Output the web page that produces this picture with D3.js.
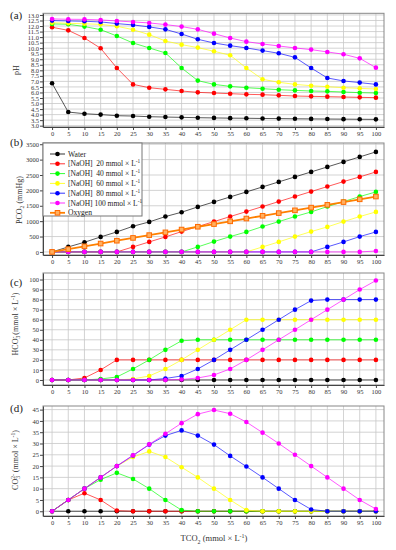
<!DOCTYPE html>
<html>
<head>
<meta charset="utf-8">
<script src="https://cdn.jsdelivr.net/npm/d3@7"></script>
<style>
body { margin: 0; background: #fff; }
text { font-family: "Liberation Serif", "Times New Roman", serif; }
</style>
</head>
<body>
<div id="chart"></div>
<script>
const width = 396;
const height = 550;

// TCO2 (mmol x L-1)
const tco2 = [0, 5, 10, 15, 20, 25, 30, 35, 40, 45, 50, 55, 60, 65, 70, 75, 80, 85, 90, 95, 100];

const seriesNames = ['Water', '20', '40', '60', '80', '100'];
const seriesColors = ['#000000', '#ff0000', '#00ff00', '#ffff00', '#0000ff', '#ff00ff'];

// (a) pH
const phWater = [6.83, 4.23, 4.08, 4.0, 3.9, 3.87, 3.81, 3.78, 3.75, 3.72, 3.7, 3.68, 3.67, 3.65, 3.64, 3.62, 3.61, 3.6, 3.59, 3.58, 3.57];
const ph20 = [11.89, 11.61, 10.92, 9.99, 8.21, 6.73, 6.43, 6.28, 6.13, 6.01, 5.95, 5.89, 5.83, 5.8, 5.74, 5.68, 5.65, 5.62, 5.59, 5.56, 5.53];
const ph40 = [12.19, 12.16, 11.95, 11.67, 11.1, 10.47, 10.02, 9.57, 8.21, 7.07, 6.73, 6.55, 6.43, 6.34, 6.25, 6.19, 6.13, 6.1, 6.04, 5.98, 5.95];
const ph60 = [12.3, 12.25, 12.2, 12.15, 11.98, 11.67, 11.22, 10.65, 10.32, 10.05, 9.72, 9.36, 8.21, 7.19, 6.92, 6.73, 6.61, 6.52, 6.43, 6.37, 6.31];
const ph80 = [12.49, 12.46, 12.43, 12.37, 12.22, 12.1, 11.92, 11.7, 11.28, 10.8, 10.47, 10.23, 10.02, 9.78, 9.54, 9.17, 8.21, 7.31, 7.04, 6.89, 6.73];
const ph100 = [12.64, 12.61, 12.6, 12.55, 12.46, 12.37, 12.28, 12.13, 11.95, 11.7, 11.31, 10.92, 10.59, 10.38, 10.2, 10.02, 9.87, 9.66, 9.45, 9.08, 8.24];

// (b) PCO2 (mmHg)
const pco2Water = [0, 163, 314, 488, 650, 834, 975, 1149, 1290, 1463, 1625, 1788, 1950, 2113, 2276, 2438, 2600, 2763, 2926, 3088, 3251];
const pco2_20 = [0, 0, 0, 0, 0, 163, 325, 488, 661, 824, 986, 1149, 1311, 1474, 1636, 1799, 1961, 2124, 2286, 2438, 2600];
const pco2_40 = [0, 0, 0, 0, 0, 0, 0, 0, 0, 163, 336, 498, 650, 824, 986, 1149, 1300, 1474, 1636, 1799, 1950];
const pco2_60 = [0, 0, 0, 0, 0, 0, 0, 0, 0, 0, 0, 0, 0, 163, 325, 498, 661, 813, 986, 1149, 1300];
const pco2_80 = [0, 0, 0, 0, 0, 0, 0, 0, 0, 0, 0, 0, 0, 0, 0, 0, 0, 163, 325, 498, 650];
const pco2_100 = [0, 0, 0, 0, 0, 0, 0, 0, 0, 0, 0, 0, 0, 0, 0, 0, 0, 0, 0, 0, 30];
const pco2Oxygen = [0, 92, 183, 272, 364, 455, 546, 636, 727, 818, 905, 995, 1085, 1175, 1262, 1352, 1440, 1530, 1620, 1710, 1800];

// (c) HCO3- (mmol x L-1)
const hco3Water = [0, 0, 0, 0, 0, 0, 0, 0, 0, 0, 0, 0, 0, 0, 0, 0, 0, 0, 0, 0, 0];
const hco3_20 = [0, 0, 2, 10, 20, 20, 20, 20, 20, 20, 20, 20, 20, 20, 20, 20, 20, 20, 20, 20, 20];
const hco3_40 = [0, 0, 0, 1, 3, 11, 20, 30, 39, 40, 40, 40, 40, 40, 40, 40, 40, 40, 40, 40, 40];
const hco3_60 = [0, 0, 0, 0, 0, 1, 4, 11, 20, 30, 40, 50, 60, 60, 60, 60, 60, 60, 60, 60, 60];
const hco3_80 = [0, 0, 0, 0, 0, 0, 0, 1.5, 4, 11, 20, 30, 40, 50, 60, 70, 79, 80, 80, 80, 80];
const hco3_100 = [0, 0, 0, 0, 0, 0, 0, 0, 0.5, 2, 5, 11, 20, 30, 40, 50, 60, 70, 80, 90, 99];

// (d) CO3 2- (mmol x L-1)
const co3Water = [0, 0, 0, 0, 0, 0, 0, 0, 0, 0, 0, 0, 0, 0, 0, 0, 0, 0, 0, 0, 0];
const co3_20 = [0, 5, 8, 5, 0.3, 0, 0, 0, 0, 0, 0, 0, 0, 0, 0, 0, 0, 0, 0, 0, 0];
const co3_40 = [0, 5, 10, 14, 17, 14.3, 10, 5, 0.5, 0, 0, 0, 0, 0, 0, 0, 0, 0, 0, 0, 0];
const co3_60 = [0, 5, 10, 15, 20, 24, 26.5, 24, 19.5, 15, 10, 5, 0.5, 0, 0, 0, 0, 0, 0, 0, 0];
const co3_80 = [0, 5, 10, 15, 20, 24.7, 29.5, 33.5, 35.8, 33.5, 29.5, 24.5, 19.8, 15, 10, 5, 0.8, 0, 0, 0, 0];
const co3_100 = [0, 5, 10, 15, 20, 24.8, 29.6, 34.3, 39, 43, 44.8, 43.2, 39.5, 34.8, 30, 25, 20, 15, 10, 5, 1];

const xTicks = d3.range(0, 101, 5);

// 面板布局
const panels = [
    {label: '(a)', labelY: 19, top: 13.3, bottom: 127, domain: [2.88, 13.15],
        ticks: d3.range(3, 13.01, 0.5), fmt: d3.format('.1f'),
        series: [phWater, ph20, ph40, ph60, ph80, ph100],
        title: [['pH']], titleX: 19, titleY: 70},
    {label: '(b)', labelY: 146, top: 143, bottom: 255, domain: [-100, 3540],
        ticks: d3.range(0, 3501, 500), fmt: d3.format('d'),
        series: [pco2Water, pco2_20, pco2_40, pco2_60, pco2_80, pco2_100],
        title: [['PCO'], ['2', 'sub'], [' (mmHg)']], titleX: 22, titleY: 200},
    {label: '(c)', labelY: 286, top: 273, bottom: 385, domain: [-5, 106.5],
        ticks: d3.range(0, 101, 10), fmt: d3.format('d'),
        series: [hco3Water, hco3_20, hco3_40, hco3_60, hco3_80, hco3_100],
        title: [['HCO'], ['3', 'sub'], ['-', 'sup'], [' (mmol × L'], ['-1', 'sup'], [')']], titleX: 18, titleY: 324},
    {label: '(d)', labelY: 412, top: 406, bottom: 516, domain: [-2.1, 46.6],
        ticks: d3.range(0, 46, 5), fmt: d3.format('d'),
        series: [co3Water, co3_20, co3_40, co3_60, co3_80, co3_100],
        title: [['CO'], ['3', 'sub'], ['2-', 'sup'], [' (mmol × L'], ['-1', 'sup'], [')']], titleX: 18, titleY: 460}
];

const left = 43, right = 384;

var svg = d3.select('#chart').append('svg')
    .attr('width', width).attr('height', height);
svg.append('rect').attr('width', width).attr('height', height).attr('fill', '#fff');

var x = d3.scaleLinear().domain([-2.8, 102.5]).range([left, right]);

// 上下标文本
function rich_text(sel, parts, size) {
    let shift = 0;
    parts.forEach(function (p) {
        let t = sel.append('tspan').text(p[0]);
        let target = 0;
        if (p[1] === 'sub') target = size * 0.3;
        if (p[1] === 'sup') target = -size * 0.4;
        if (p[1]) t.attr('font-size', size * 0.7);
        if (p[1] === 'sup' && shift > 0) t.attr('dx', -size * 0.35);
        t.attr('dy', target - shift);
        shift = target;
    });
}

panels.forEach(function (p) {
    let y = d3.scaleLinear().domain(p.domain).range([p.bottom, p.top]);
    let g = svg.append('g');

    // grid
    g.append('g').selectAll('line').data(xTicks).enter().append('line')
        .attr('x1', d => x(d)).attr('x2', d => x(d))
        .attr('y1', p.top).attr('y2', p.bottom)
        .attr('stroke', '#c8c8c8').attr('stroke-width', 0.8);
    g.append('g').selectAll('line').data(p.ticks).enter().append('line')
        .attr('x1', left).attr('x2', right)
        .attr('y1', d => y(d)).attr('y2', d => y(d))
        .attr('stroke', '#c8c8c8').attr('stroke-width', 0.8);

    g.append('rect').attr('x', left).attr('y', p.top)
        .attr('width', right - left).attr('height', p.bottom - p.top)
        .attr('fill', 'none').attr('stroke', '#888').attr('stroke-width', 1);

    let ax = g.append('g').attr('transform', 'translate(0,' + p.bottom + ')')
        .call(d3.axisBottom(x).tickValues(xTicks).tickSize(3).tickSizeOuter(0).tickPadding(1.5));
    let ay = g.append('g').attr('transform', 'translate(' + left + ',0)')
        .call(d3.axisLeft(y).tickValues(p.ticks).tickFormat(p.fmt).tickSize(3).tickSizeOuter(0).tickPadding(1));
    [ax, ay].forEach(function (a) {
        a.select('.domain').attr('stroke', '#444');
        a.selectAll('.tick line').attr('stroke', '#444');
        a.selectAll('.tick text').attr('font-size', 6.5).attr('fill', '#333')
            .attr('font-family', '"Liberation Serif", serif');
    });

    // series
    let line = d3.line().x((d, i) => x(tco2[i])).y(d => y(d));
    p.series.forEach(function (vals, k) {
        g.append('path').datum(vals).attr('d', line)
            .attr('fill', 'none').attr('stroke', seriesColors[k])
            .attr('stroke-opacity', 0.65).attr('stroke-width', 1);
        g.append('g').selectAll('circle').data(vals).enter().append('circle')
            .attr('cx', (d, i) => x(tco2[i])).attr('cy', d => y(d))
            .attr('r', 2.3).attr('fill', seriesColors[k]);
    });

    if (p.label === '(b)') {
        g.append('path').datum(pco2Oxygen).attr('d', line)
            .attr('fill', 'none').attr('stroke', '#ff8000').attr('stroke-width', 1.8);
        g.append('g').selectAll('rect').data(pco2Oxygen).enter().append('rect')
            .attr('x', (d, i) => x(tco2[i]) - 2.3).attr('y', d => y(d) - 2.3)
            .attr('width', 4.6).attr('height', 4.6)
            .attr('fill', '#ffb060').attr('stroke', '#ff6a00').attr('stroke-width', 1);
    }

    svg.append('text').attr('x', 10).attr('y', p.labelY)
        .attr('font-size', 11).attr('fill', '#222').text(p.label);

    let tt = svg.append('text')
        .attr('transform', 'translate(' + p.titleX + ',' + p.titleY + ') rotate(-90)')
        .attr('text-anchor', 'middle').attr('font-size', 8).attr('fill', '#333');
    rich_text(tt, p.title, 8);
});

// legend
const legendTop = 143, legendRow = 9.8;
let lg = svg.append('g');
lg.append('rect').attr('x', 43).attr('y', legendTop).attr('width', 99).attr('height', 73)
    .attr('fill', '#fff').attr('stroke', '#777').attr('stroke-width', 1);
seriesNames.forEach(function (name, k) {
    let yy = legendTop + 11 + k * legendRow;
    lg.append('line').attr('x1', 50).attr('x2', 65).attr('y1', yy).attr('y2', yy)
        .attr('stroke', seriesColors[k]).attr('stroke-opacity', 0.8);
    lg.append('circle').attr('cx', 57.5).attr('cy', yy).attr('r', 2.3).attr('fill', seriesColors[k]);
    let t = lg.append('text').attr('x', 68).attr('y', yy + 2.5).attr('font-size', 7.5).attr('fill', '#222');
    if (k === 0) {
        t.attr('font-family', '"Liberation Sans", Arial, sans-serif').attr('font-size', 7.6).text(name);
    } else {
        t.attr('xml:space', 'preserve');
        let pad = name.length < 3 ? '  ' : ' ';
        rich_text(t, [['[NaOH]' + pad + name + ' mmol × L'], ['-1', 'sup']], 7.5);
    }
});
let oy = legendTop + 11 + 6 * legendRow;
lg.append('line').attr('x1', 50).attr('x2', 65).attr('y1', oy).attr('y2', oy)
    .attr('stroke', '#ff8000').attr('stroke-width', 1.8);
lg.append('rect').attr('x', 55.2).attr('y', oy - 2.3).attr('width', 4.6).attr('height', 4.6)
    .attr('fill', '#ffb060').attr('stroke', '#ff6a00');
lg.append('text').attr('x', 68).attr('y', oy + 2.5).attr('font-size', 7.6)
    .attr('font-family', '"Liberation Sans", Arial, sans-serif').attr('fill', '#222').text('Oxygen');

// x title
let xt = svg.append('text').attr('x', 214).attr('y', 541)
    .attr('text-anchor', 'middle').attr('font-size', 8.5).attr('fill', '#333');
rich_text(xt, [['TCO'], ['2', 'sub'], [' (mmol × L'], ['-1', 'sup'], [')']], 8.5);
</script>
</body>
</html>
